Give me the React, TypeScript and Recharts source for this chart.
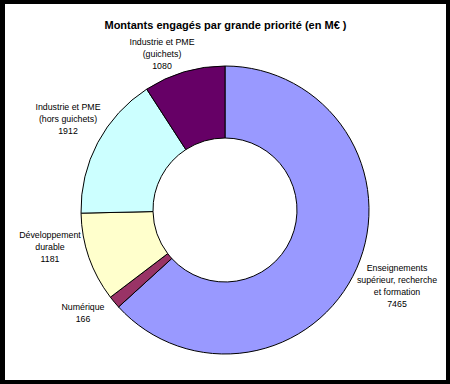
import { Cell, Pie, PieChart } from "recharts";

const categories = [
  "Enseignements\nsupérieur, recherche\net formation",
  "Numérique",
  "Développement\ndurable",
  "Industrie et PME\n(hors guichets)",
  "Industrie et PME\n(guichets)",
];
const amounts = [7465, 166, 1181, 1912, 1080];
const colors = ["#9999ff", "#993366", "#ffffcc", "#ccffff", "#660066"];

// where each label block sits, relative to the pie centre (manual placement as in the source)
const labelOffsets: [number, number][] = [
  [172, 76],
  [-142, 103],
  [-175, 37],
  [-157, -91],
  [-63, -156],
];

const data = categories.map((name, i) => ({ name, value: amounts[i] }));

const FONT = "'Liberation Sans', Arial, sans-serif";

function renderLabel(props: any) {
  const { cx, cy, index, value } = props;
  const lines = [...categories[index].split("\n"), String(value)];
  const [dx, dy] = labelOffsets[index];
  const x = cx + dx;
  const top = cy + dy - ((lines.length - 1) * 12) / 2 + 3;
  return (
    <g key={`lbl-${index}`}>
      {lines.map((line, i) => (
        <text
          key={i}
          x={x}
          y={top + i * 12}
          textAnchor="middle"
          fontSize={8.8}
          fontFamily={FONT}
          fill="#000"
        >
          {line}
        </text>
      ))}
    </g>
  );
}

export default function App() {
  return (
    <div
      style={{
        position: "absolute",
        left: 0,
        top: 0,
        width: 450,
        height: 384,
        background: "#000",
      }}
    >
      <div
        style={{
          position: "absolute",
          left: 5,
          top: 4,
          width: 441,
          height: 376,
          background: "#fff",
        }}
      >
        <div
          style={{
            position: "absolute",
            left: 0,
            top: 15,
            width: 441,
            textAlign: "center",
            fontFamily: FONT,
            fontWeight: "bold",
            fontSize: 11,
            lineHeight: "13px",
          }}
        >
          Montants engagés par grande priorité (en M€ )
        </div>
        <div style={{ position: "absolute", left: 0, top: 0 }}>
          <PieChart width={441} height={376} margin={{ top: 0, right: 0, bottom: 0, left: 0 }}>
            <Pie
              data={data}
              dataKey="value"
              nameKey="name"
              cx={220}
              cy={206}
              innerRadius={72}
              outerRadius={144}
              startAngle={90}
              endAngle={-270}
              stroke="#000"
              strokeWidth={1}
              label={renderLabel}
              labelLine={false}
              isAnimationActive={false}
            >
              {data.map((d, i) => (
                <Cell key={d.name} fill={colors[i]} />
              ))}
            </Pie>
          </PieChart>
        </div>
      </div>
    </div>
  );
}
